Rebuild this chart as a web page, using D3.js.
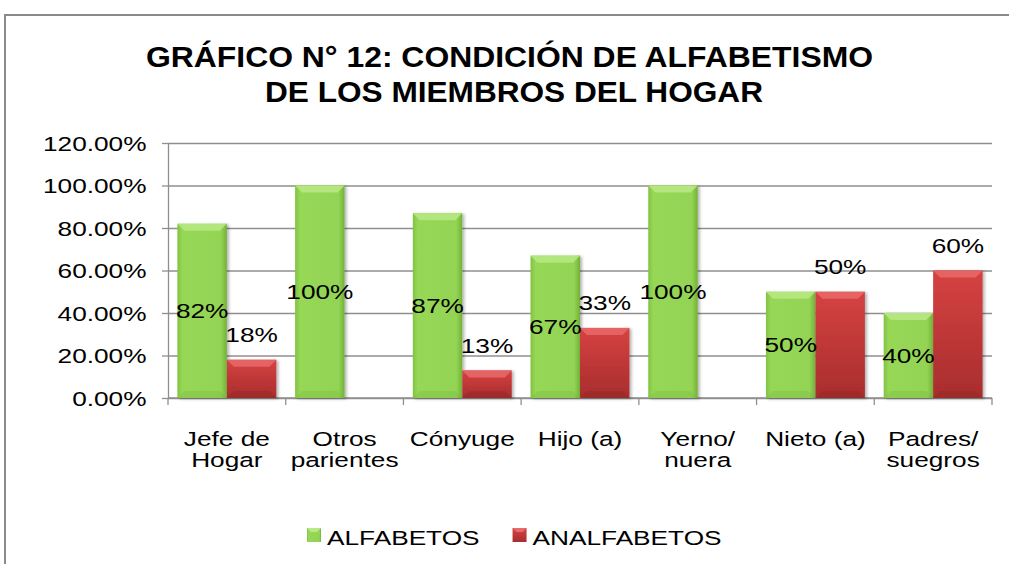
<!DOCTYPE html>
<html>
<head>
<meta charset="utf-8">
<script src="https://cdn.jsdelivr.net/npm/d3@7"></script>
<style>
  body { margin: 0; background: #fff; }
  svg { display: block; font-family: "Liberation Sans", Arial, sans-serif; }
</style>
</head>
<body>
<div id="chart"></div>
<script>
// datos
const categorias = ["Jefe de Hogar", "Otros parientes", "Cónyuge", "Hijo (a)", "Yerno/ nuera", "Nieto (a)", "Padres/ suegros"];
const etiquetas = [["Jefe de", "Hogar"], ["Otros", "parientes"], ["Cónyuge"], ["Hijo (a)"], ["Yerno/", "nuera"], ["Nieto (a)"], ["Padres/", "suegros"]];
const series = ["ALFABETOS", "ANALFABETOS"];
const alfabetos = [0.82, 1.00, 0.87, 0.67, 1.00, 0.50, 0.40];
const analfabetos = [0.18, 0, 0.13, 0.33, 0, 0.50, 0.60];
const yTicks = [0, 0.2, 0.4, 0.6, 0.8, 1.0, 1.2];
const titulo = ["GRÁFICO N°  12: CONDICIÓN DE ALFABETISMO", "DE LOS MIEMBROS DEL HOGAR"];

const W = 1009, H = 564;
const SX = 1.28;   // el texto del original sale estirado a lo ancho
const FS = 20.5;

function drawChart() {
  const svg = d3.select("#chart").append("svg")
    .attr("width", W)
    .attr("height", H);

  const defs = svg.append("defs");

  // degradados de las barras
  const gv = defs.append("linearGradient").attr("id", "gVerde").attr("x1", 0).attr("x2", 1).attr("y1", 0).attr("y2", 0);
  gv.append("stop").attr("offset", "0%").attr("stop-color", "#80c341");
  gv.append("stop").attr("offset", "10%").attr("stop-color", "#96d757");
  gv.append("stop").attr("offset", "88%").attr("stop-color", "#93d454");
  gv.append("stop").attr("offset", "100%").attr("stop-color", "#72b137");

  const gr = defs.append("linearGradient").attr("id", "gRojo").attr("x1", 0).attr("x2", 0).attr("y1", 0).attr("y2", 1);
  gr.append("stop").attr("offset", "0%").attr("stop-color", "#d64242");
  gr.append("stop").attr("offset", "100%").attr("stop-color", "#a82d2d");

  const sombra = defs.append("filter").attr("id", "sombra").attr("x", "-20%").attr("y", "-10%").attr("width", "150%").attr("height", "130%");
  sombra.append("feDropShadow").attr("dx", 2).attr("dy", 1).attr("stdDeviation", 1.6)
    .attr("flood-color", "#000").attr("flood-opacity", 0.3);

  const estilo = {
    "ALFABETOS":   { cara: "url(#gVerde)", arriba: "#b9e982", abajo: "#6fae36" },
    "ANALFABETOS": { cara: "url(#gRojo)",  arriba: "#e76a6a", abajo: "#7e1f1f" }
  };

  // marco exterior
  svg.append("rect")
    .attr("x", 5).attr("y", 15)
    .attr("width", 1040).attr("height", 600)
    .attr("fill", "none")
    .attr("stroke", "#8a8a8a")
    .attr("stroke-width", 2);

  // titulo
  svg.append("text")
    .attr("x", 509.5).attr("y", 66.7)
    .attr("text-anchor", "middle")
    .attr("font-size", 29).attr("font-weight", "bold")
    .attr("textLength", 727).attr("lengthAdjust", "spacingAndGlyphs")
    .text(titulo[0]);
  svg.append("text")
    .attr("x", 514).attr("y", 101.7)
    .attr("text-anchor", "middle")
    .attr("font-size", 29).attr("font-weight", "bold")
    .attr("textLength", 498).attr("lengthAdjust", "spacingAndGlyphs")
    .text(titulo[1]);

  // escalas
  const x0 = d3.scaleBand().domain(categorias).range([168, 992]).padding(0);
  const x1 = d3.scaleBand().domain(series).range([0, x0.bandwidth()]).paddingInner(0).paddingOuter(0.19);
  const y = d3.scaleLinear().domain([0, 1.2]).range([398, 143]);

  const [xa, xb] = x0.range();

  // lineas de division
  svg.append("g")
    .attr("transform", `translate(${xa},0)`)
    .call(d3.axisLeft(y).tickValues(yTicks).tickSize(-(xb - xa)).tickFormat(""))
    .call(g => g.select(".domain").remove())
    .selectAll("line")
    .attr("stroke", "#8f8f8f")
    .attr("stroke-width", 1.3);

  // eje y
  const yAxis = svg.append("g")
    .attr("transform", `translate(${xa},0)`)
    .call(d3.axisLeft(y).tickValues(yTicks).tickSize(6).tickSizeOuter(0).tickFormat(d3.format(".2%")));
  yAxis.select(".domain").attr("stroke", "#8f8f8f").attr("stroke-width", 1.3);
  yAxis.selectAll("line").attr("stroke", "#8f8f8f").attr("stroke-width", 1.3);
  yAxis.selectAll("text")
    .attr("x", -21.5 / SX)
    .attr("dy", "0.35em")
    .attr("transform", `scale(${SX},1)`)
    .attr("font-size", FS)
    .attr("font-family", "'Liberation Sans', Arial, sans-serif")
    .attr("fill", "#000");

  // eje x con marcas entre categorias
  svg.append("line")
    .attr("x1", xa).attr("x2", xb)
    .attr("y1", y(0)).attr("y2", y(0))
    .attr("stroke", "#8f8f8f").attr("stroke-width", 1.3);

  const limites = categorias.map(c => x0(c)).concat([xb]);
  svg.append("g").selectAll("line")
    .data(limites)
    .enter()
    .append("line")
    .attr("x1", d => d).attr("x2", d => d)
    .attr("y1", y(0)).attr("y2", y(0) + 7)
    .attr("stroke", "#8f8f8f").attr("stroke-width", 1.3);

  // etiquetas de categorias
  const cat = svg.append("g").selectAll("g")
    .data(categorias)
    .enter()
    .append("g")
    .attr("transform", d => `translate(${x0(d) + x0.bandwidth() / 2},445.5) scale(${SX},1)`);

  cat.append("text")
    .attr("text-anchor", "middle")
    .attr("font-size", FS)
    .attr("fill", "#000")
    .selectAll("tspan")
    .data((d, i) => etiquetas[i])
    .enter()
    .append("tspan")
    .attr("x", 0)
    .attr("dy", (d, i) => i === 0 ? 0 : 21.5)
    .text(d => d);

  // barras
  const filas = categorias.map((c, i) => ({
    cat: c,
    valores: [
      { s: "ALFABETOS", v: alfabetos[i] },
      { s: "ANALFABETOS", v: analfabetos[i] }
    ]
  }));

  const grupos = svg.append("g").selectAll("g")
    .data(filas)
    .enter()
    .append("g")
    .attr("transform", d => `translate(${x0(d.cat)},0)`);

  const barra = grupos.selectAll("g")
    .data(d => d.valores.filter(b => b.v > 0))
    .enter()
    .append("g")
    .attr("filter", "url(#sombra)");

  const bw = x1.bandwidth();
  const bisel = 7;

  barra.append("rect")
    .attr("x", d => x1(d.s))
    .attr("y", d => y(d.v))
    .attr("width", bw)
    .attr("height", d => y(0) - y(d.v))
    .attr("fill", d => estilo[d.s].cara);

  barra.append("polygon")
    .attr("points", d => {
      const l = x1(d.s), r = l + bw, t = y(d.v);
      return [[l, t], [r, t], [r - bisel, t + bisel], [l + bisel, t + bisel]].join(" ");
    })
    .attr("fill", d => estilo[d.s].arriba)
    .attr("opacity", 0.85);

  barra.append("polygon")
    .attr("points", d => {
      const l = x1(d.s), r = l + bw, b = y(0);
      return [[l, b], [r, b], [r - bisel, b - bisel], [l + bisel, b - bisel]].join(" ");
    })
    .attr("fill", d => estilo[d.s].abajo)
    .attr("opacity", 0.25);

  // etiquetas de datos
  const fmt = d3.format(".0%");
  grupos.selectAll(".lbl")
    .data(d => d.valores.filter(b => b.v > 0))
    .enter()
    .append("g")
    .attr("class", "lbl")
    .attr("transform", d => {
      const cx = x1(d.s) + bw / 2;
      const cy = d.s === "ALFABETOS" ? (y(d.v) + y(0)) / 2 : y(d.v) - 25;
      return `translate(${cx},${cy}) scale(${SX},1)`;
    })
    .append("text")
    .attr("text-anchor", "middle")
    .attr("dy", "0.35em")
    .attr("font-size", FS)
    .attr("fill", "#000")
    .text(d => fmt(d.v));

  // leyenda
  const leyenda = svg.append("g").attr("transform", "translate(307,528)");
  let lx = 0;
  series.forEach(s => {
    const item = leyenda.append("g").attr("transform", `translate(${lx},0)`);
    item.append("rect")
      .attr("width", 14).attr("height", 14)
      .attr("fill", estilo[s].cara);
    item.append("polygon")
      .attr("points", "0,0 14,0 10,4 4,4")
      .attr("fill", estilo[s].arriba);
    const t = item.append("g")
      .attr("transform", `translate(20,17) scale(${SX},1)`)
      .append("text")
      .attr("font-size", FS)
      .attr("fill", "#000")
      .text(s);
    lx += 20 + t.node().getComputedTextLength() * SX + 33;
  });
}

drawChart();
</script>
</body>
</html>
